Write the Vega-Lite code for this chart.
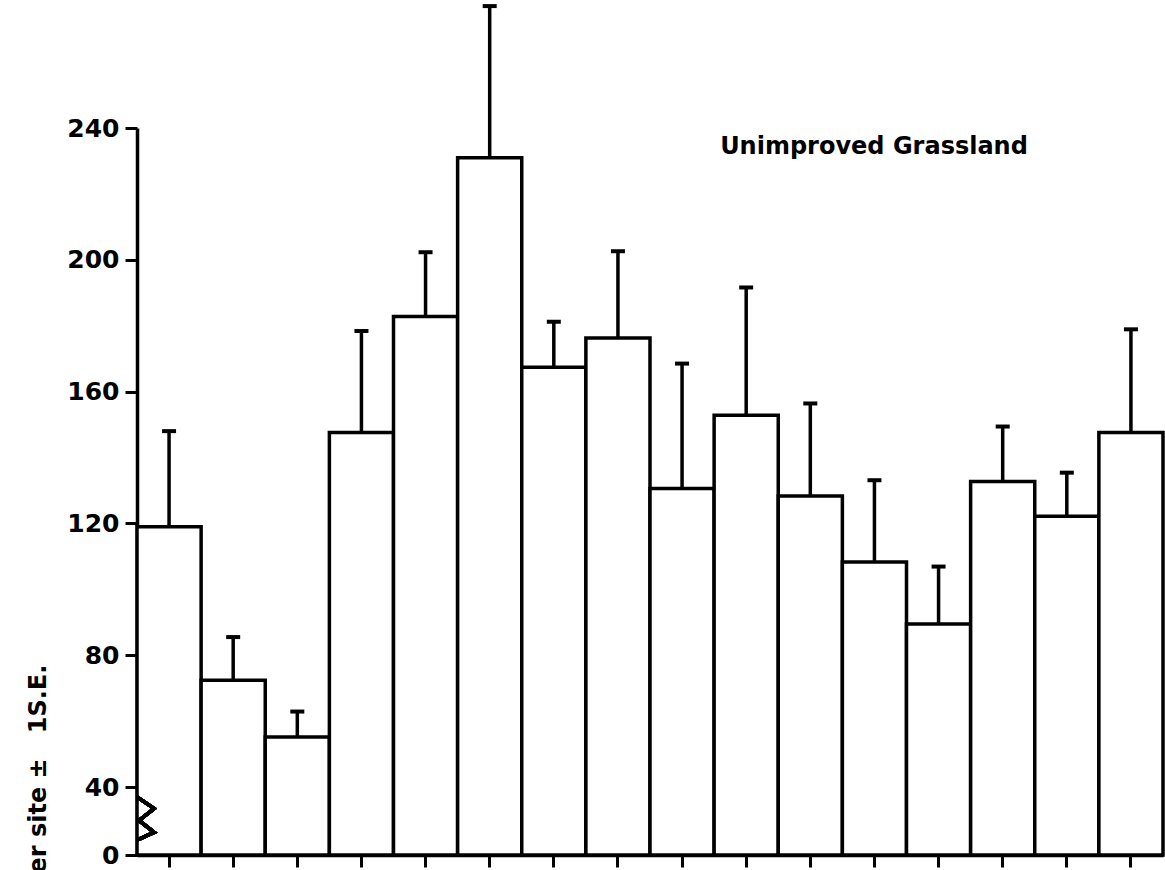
{
  "$schema": "https://vega.github.io/schema/vega-lite/v6.json",
  "autosize": {"type": "none"},
  "width": 1026,
  "height": 855,
  "padding": {"left": 137, "top": 0, "right": 2, "bottom": 15},
  "background": "white",
  "title": {
    "text": "Unimproved Grassland",
    "anchor": "middle",
    "frame": "group",
    "dx": 224,
    "dy": 182,
    "baseline": "alphabetic",
    "font": "DejaVu Sans",
    "fontSize": 24,
    "fontWeight": "bold",
    "color": "black"
  },
  "config": {
    "view": {"stroke": null},
    "axis": {
      "labelFont": "DejaVu Sans",
      "titleFont": "DejaVu Sans",
      "labelColor": "black",
      "titleColor": "black",
      "tickColor": "black",
      "domainColor": "black",
      "grid": false
    }
  },
  "data": {
    "values": [
      {"site": 1, "mean": 119, "upper": 148},
      {"site": 2, "mean": 72.4, "upper": 85.5},
      {"site": 3, "mean": 55.2, "upper": 62.9},
      {"site": 4, "mean": 147.6, "upper": 178.4},
      {"site": 5, "mean": 182.8, "upper": 202.3},
      {"site": 6, "mean": 231, "upper": 277},
      {"site": 7, "mean": 167.4, "upper": 181.2},
      {"site": 8, "mean": 176.3, "upper": 202.6},
      {"site": 9, "mean": 130.6, "upper": 168.5},
      {"site": 10, "mean": 152.8, "upper": 191.6},
      {"site": 11, "mean": 128.3, "upper": 156.4},
      {"site": 12, "mean": 108.3, "upper": 133.1},
      {"site": 13, "mean": 89.5, "upper": 106.9},
      {"site": 14, "mean": 132.7, "upper": 149.4},
      {"site": 15, "mean": 122.2, "upper": 135.4},
      {"site": 16, "mean": 147.6, "upper": 178.9}
    ]
  },
  "encoding": {
    "x": {
      "field": "site",
      "type": "ordinal",
      "scale": {"paddingInner": 0, "paddingOuter": 0},
      "axis": {
        "labels": false,
        "title": null,
        "ticks": true,
        "tickSize": 12,
        "tickWidth": 3,
        "domain": true,
        "domainWidth": 3.5
      }
    }
  },
  "layer": [
    {
      "mark": {"type": "bar", "fill": "white", "stroke": "black", "strokeWidth": 3.5},
      "encoding": {
        "y": {
          "field": "mean",
          "type": "quantitative",
          "scale": {"domain": [0, 40, 240], "range": [855, 787, 128], "nice": false, "zero": false},
          "axis": {
            "values": [0, 40, 80, 120, 160, 200, 240],
            "tickSize": 12,
            "tickWidth": 3,
            "domainWidth": 3.5,
            "labelFontSize": 25,
            "labelFontWeight": "bold",
            "labelPadding": 6,
            "title": "er site ±\u00a0\u00a0 1S.E.",
            "titleFontSize": 24,
            "titleFontWeight": "bold",
            "titleAngle": -90,
            "titleAlign": "left",
            "titleBaseline": "alphabetic",
            "titleX": -92,
            "titleY": 873
          }
        }
      }
    },
    {
      "mark": {"type": "rule", "color": "black", "strokeWidth": 3.5},
      "encoding": {
        "x": {"field": "site", "type": "ordinal", "bandPosition": 0.5},
        "y": {"field": "mean", "type": "quantitative"},
        "y2": {"field": "upper"}
      }
    },
    {
      "mark": {"type": "tick", "color": "black", "orient": "horizontal", "size": 14, "thickness": 4, "opacity": 1},
      "encoding": {
        "x": {"field": "site", "type": "ordinal", "bandPosition": 0.5},
        "y": {"field": "upper", "type": "quantitative"}
      }
    },
    {
      "mark": {
        "type": "point",
        "shape": "M0,0.96L0.76,0.62L0.09,0.09L0.76,-0.44L0,-0.96",
        "filled": false,
        "stroke": "black",
        "strokeWidth": 3.5,
        "strokeJoin": "miter",
        "opacity": 1,
        "size": 2025
      },
      "encoding": {
        "x": {"datum": 1, "type": "ordinal", "bandPosition": 0},
        "y": {"datum": 21.5, "type": "quantitative"}
      }
    }
  ]
}
